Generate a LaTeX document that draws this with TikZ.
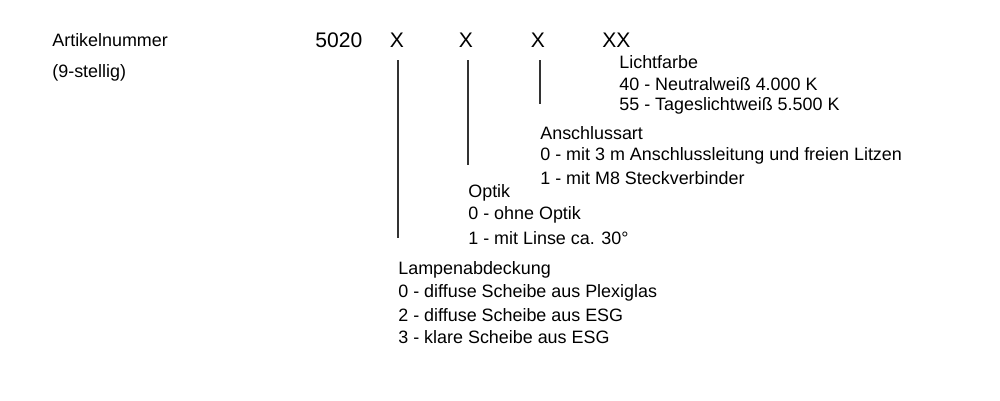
\documentclass[tikz,border=0pt]{standalone}
\usepackage{fontspec}
\setmainfont{Liberation Sans}
\begin{document}
\begin{tikzpicture}[x=0.02cm,y=-0.02cm,
  lbl/.style={anchor=west,inner sep=0pt,font=\fontsize{10.2pt}{12pt}\selectfont},
  code/.style={inner sep=0pt,font=\fontsize{12pt}{14pt}\selectfont},
  tick/.style={draw=black!80,line width=0.6pt}]
\useasboundingbox (0,0) rectangle (1000,400);
\node[lbl] (art) at (52,40) {Artikelnummer};
\node[lbl] (st) at (52,73) {(9-stellig)};
\node[code,anchor=west] (n) at (315,40) {5020};
\node[code] (x1) at (397,40) {X};
\node[code] (x2) at (466,40) {X};
\node[code] (x3) at (538,40) {X};
\node[code,anchor=west] (x4) at (602,40) {XX};
\coordinate (a1) at (398,60); \coordinate (b1) at (398,238);
\coordinate (a2) at (468,60); \coordinate (b2) at (468,165);
\coordinate (a3) at (540,60); \coordinate (b3) at (540,104);
\draw[tick] (a1) -- (b1);
\draw[tick] (a2) -- (b2);
\draw[tick] (a3) -- (b3);
\node[lbl] (l1) at (619,62) {Lichtfarbe};
\node[lbl] (l2) at (619,84) {40 - Neutralweiß 4.000 K};
\node[lbl] (l3) at (619,106) {55 - Tageslichtweiß 5.500 K};
\node[lbl] (s1) at (540,133) {Anschlussart};
\node[lbl] (s2) at (540,156) {0 - mit 3 m Anschlussleitung und freien Litzen};
\node[lbl] (s3) at (540,178) {1 - mit M8 Steckverbinder};
\node[lbl] (o1) at (468,193) {Optik};
\node[lbl] (o2) at (468,215) {0 - ohne Optik};
\node[lbl] (o3) at (468,238) {1 - mit Linse ca. 30°};
\node[lbl] (p1) at (398,270) {Lampenabdeckung};
\node[lbl] (p2) at (398,293) {0 - diffuse Scheibe aus Plexiglas};
\node[lbl] (p3) at (398,315) {2 - diffuse Scheibe aus ESG};
\node[lbl] (p4) at (398,337) {3 - klare Scheibe aus ESG};
\end{tikzpicture}
\end{document}
